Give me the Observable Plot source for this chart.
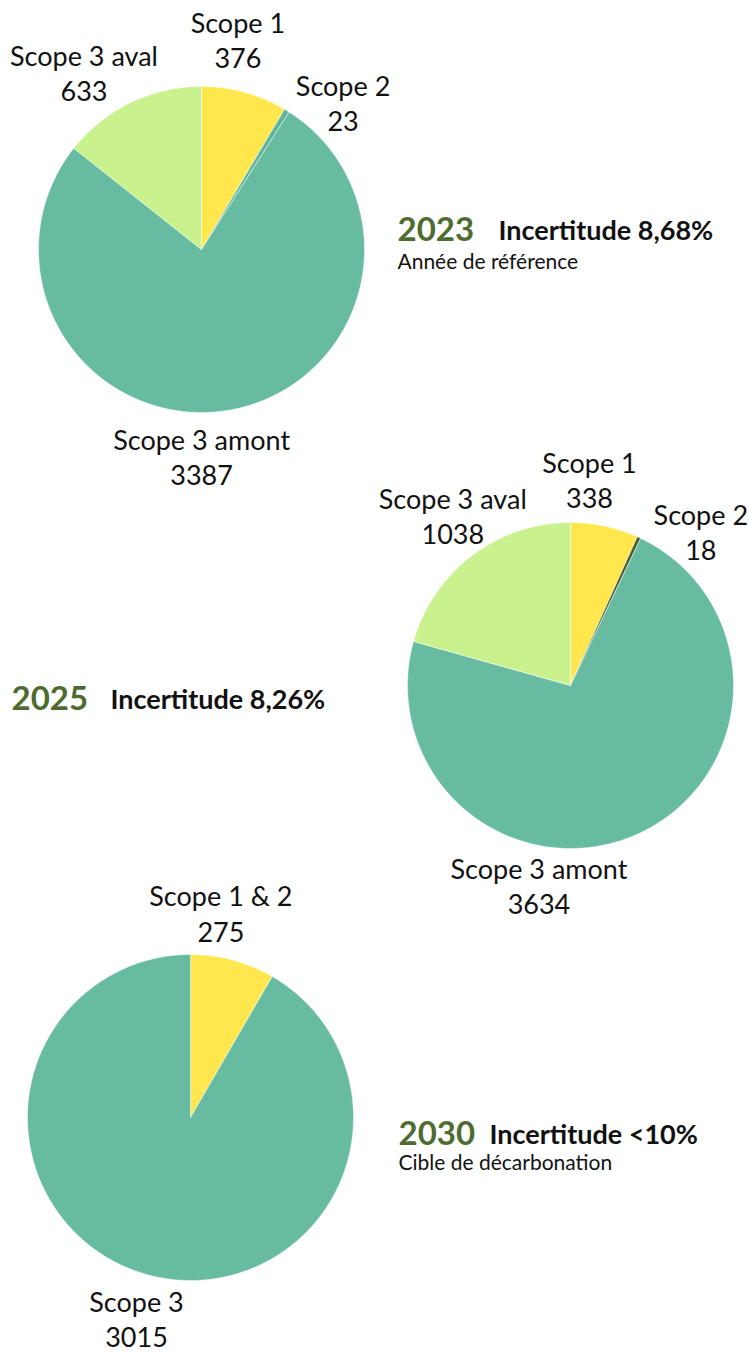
<!DOCTYPE html>
<html><head><meta charset="utf-8">
<script src="https://cdn.jsdelivr.net/npm/d3@7"></script>
<script src="https://cdn.jsdelivr.net/npm/@observablehq/plot@0.6"></script>
<style>body{margin:0;background:#fff;font-family:Lato,"Noto Sans",sans-serif}</style>
</head><body><div id="chart"></div>
<script>
// ---- data ----
const years = ["2023", "2025", "2030"];
const cats2023 = ["Scope 1", "Scope 2", "Scope 3 amont", "Scope 3 aval"];
const vals2023 = [376, 23, 3387, 633];
const cats2025 = ["Scope 1", "Scope 2", "Scope 3 amont", "Scope 3 aval"];
const vals2025 = [338, 18, 3634, 1038];
const cats2030 = ["Scope 1 & 2", "Scope 3"];
const vals2030 = [275, 3015];
const uncertainties = ["Incertitude 8,68%", "Incertitude 8,26%", "Incertitude <10%"];
const subtitles = ["Année de référence", "", "Cible de décarbonation"];

// ---- styles / layout ----
const W = 749, H = 1353;
const colors = [
  {"Scope 1": "#FFE74D", "Scope 2": "#5DB49B", "Scope 3 amont": "#67BBA1", "Scope 3 aval": "#C9F18D"},
  {"Scope 1": "#FFE74D", "Scope 2": "#4B5C2A", "Scope 3 amont": "#67BBA1", "Scope 3 aval": "#C9F18D"},
  {"Scope 1 & 2": "#FFE74D", "Scope 3": "#67BBA1"}
];
const pieLayout = [
  {cx: 201, cy: 249, r: 163},
  {cx: 570, cy: 685, r: 163},
  {cx: 190, cy: 1117, r: 163}
];
// label angular nudges (degrees) and radial nudges (px), per pie
const labelNudge = [[3.9, 3.0, 9.5, -7.7], [4.3, 4.2, 33.4, 2.5], [-6.6, 0]];
const labelRNudge = [[6, -3, 0, 6], [0, -5, -5, 0], [0, 1]];
const headLayout = [
  {x: 397, y: 230, ix: 498, sy: 262},
  {x: 11, y: 699, ix: 110, sy: 0},
  {x: 398, y: 1134, ix: 489, sy: 1163}
];
const labelR = 207, minSep = 35 * Math.PI / 180;
const rad = Math.PI / 180;

const series = [[cats2023, vals2023], [cats2025, vals2025], [cats2030, vals2030]];
const slicePts = [], labels = [], heads = [];
series.forEach(([cats, vals], i) => {
  const {cx, cy, r} = pieLayout[i];
  const arcs = d3.pie().sort(null).value(d => d)(vals);
  const mids = arcs.map(a => (a.startAngle + a.endAngle) / 2);
  // push apart labels of neighbouring thin slices
  for (let it = 0; it < 20; it++) {
    for (let k = 0; k < mids.length - 1; k++) {
      const d = mids[k + 1] - mids[k];
      if (d < minSep) {
        const m = (mids[k + 1] + mids[k]) / 2;
        mids[k] = m - minSep / 2; mids[k + 1] = m + minSep / 2;
      }
    }
  }
  arcs.forEach((a, k) => {
    const id = years[i] + "-" + cats[k];
    const fill = colors[i][cats[k]];
    slicePts.push({id, fill, x: cx, y: cy});
    const n = Math.max(2, Math.ceil((a.endAngle - a.startAngle) / 0.01));
    for (let s = 0; s <= n; s++) {
      const t = a.startAngle + (a.endAngle - a.startAngle) * s / n;
      slicePts.push({id, fill, x: cx + r * Math.sin(t), y: cy - r * Math.cos(t)});
    }
    slicePts.push({id, fill, x: cx, y: cy});
    const la = mids[k] + labelNudge[i][k] * rad;
    const lr = labelR + labelRNudge[i][k];
    labels.push({text: cats[k] + "\n" + vals[k], x: cx + lr * Math.sin(la), y: cy - lr * Math.cos(la)});
  });
  const h = headLayout[i];
  heads.push({i, year: years[i], unc: uncertainties[i], sub: subtitles[i], ...h});
});

const chart = Plot.plot({
  width: W, height: H, margin: 0,
  x: {domain: [0, W], range: [0, W], axis: null},
  y: {domain: [0, H], range: [0, H], axis: null},
  style: {fontFamily: "Lato, 'Noto Sans', sans-serif", background: "#fff"},
  marks: [
    Plot.line(slicePts, {x: "x", y: "y", z: "id", fill: d => d.fill, stroke: "#ffffff", strokeWidth: 0.6, strokeOpacity: 0.8, curve: "linear"}),
    Plot.text(labels, {x: "x", y: "y", text: "text", fontSize: 27, lineHeight: 1.3, fill: "#111", textAnchor: "middle"}),
    Plot.text(heads, {x: "x", y: "y", text: "year", fontSize: 33, fontWeight: "bold", fill: "#4E6B30", textAnchor: "start"}),
    Plot.text(heads, {x: "ix", y: "y", text: "unc", fontSize: 27, fontWeight: "bold", fill: "#111", textAnchor: "start", dy: 1}),
    Plot.text(heads.filter(d => d.sub), {x: "x", y: "sy", text: "sub", fontSize: 21, fill: "#111", textAnchor: "start"})
  ]
});
document.getElementById("chart").appendChild(chart);
</script>
</body></html>
